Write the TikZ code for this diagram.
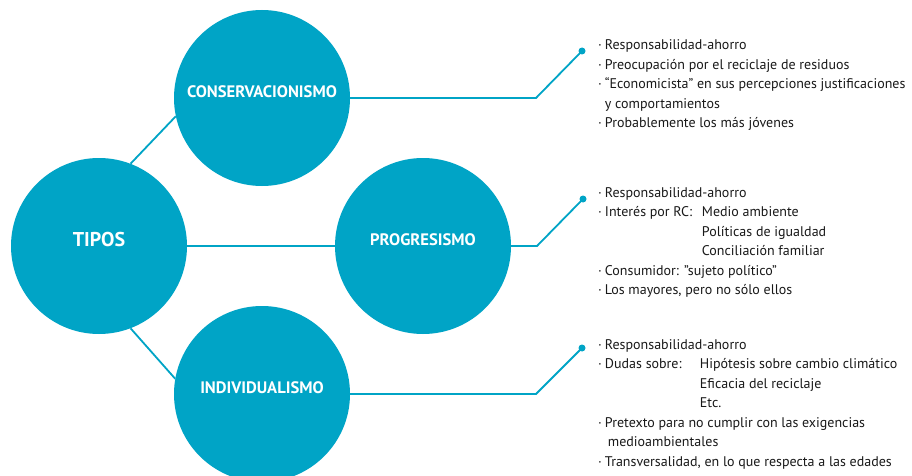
\documentclass[tikz,border=0pt]{standalone}
\usepackage{fontspec}
\setmainfont{PT Sans}
\usetikzlibrary{calc}
\definecolor{teal}{RGB}{0,164,198}
\definecolor{txt}{RGB}{25,25,25}
\tikzset{
  bigcircle/.style={circle,fill=teal,minimum size=176pt,inner sep=0pt},
  lab/.style={text=white,font=\bfseries\fontsize{16.6}{19}\selectfont,inner sep=0pt},
  biglab/.style={text=white,font=\bfseries\fontsize{20}{24}\selectfont,inner sep=0pt},
  conn/.style={draw=teal,line width=1.8pt},
  dotnode/.style={circle,fill=teal,minimum size=7pt,inner sep=0pt},
  block/.style={anchor=base west,inner sep=0pt,text=txt,font=\fontsize{14}{19.5}\selectfont}
}
\begin{document}
\begin{tikzpicture}[x=1pt,y=-1pt]
\clip (0,0) rectangle (912,476);
\fill[white] (0,0) rectangle (912,476);
% circles
\node[bigcircle] (tipos) at (99,246) {};
\node[bigcircle] (cons) at (262,98) {};
\node[bigcircle] (prog) at (423,246) {};
\node[bigcircle] (ind) at (262,394) {};
\node[biglab] (tiposT) at ([yshift=7pt]tipos.center) {TIPOS};
\node[lab] (consT) at ([yshift=6pt]cons.center) {CONSERVACIONISMO};
\node[lab] (progT) at ([yshift=6pt]prog.center) {PROGRESISMO};
\node[lab] (indT) at ([yshift=6pt]ind.center) {INDIVIDUALISMO};
% connectors between circles
\draw[conn] (tipos.69.5) -- (cons.192.6);
\draw[conn] (tipos.east) -- (prog.west);
\draw[conn] (tipos.-69.7) -- (ind.170.6);
% connectors to texts
\coordinate (k1) at (536,98);
\coordinate (k2) at (537,246);
\coordinate (k3) at (536,394);
\node[dotnode] (d1) at (582,51) {};
\node[dotnode] (d2) at (583,199) {};
\node[dotnode] (d3) at (582,348) {};
\draw[conn] (cons.east) -- (k1) -- (d1.center);
\draw[conn] (prog.east) -- (k2) -- (d2.center);
\draw[conn] (ind.east) -- (k3) -- (d3.center);
% text blocks
\node[block] (t1) at (598,50) {\begin{tabular}[t]{@{}l@{\hspace{3pt}}l@{}}
·& Responsabilidad-ahorro\\
·& Preocupación por el reciclaje de residuos\\
·& “Economicista” en sus percepciones justificaciones\\
 & y comportamientos\\
·& Probablemente los más jóvenes
\end{tabular}};
\node[block] (t2) at (598,197) {\begin{tabular}[t]{@{}l@{\hspace{3pt}}l@{}}
·& Responsabilidad-ahorro\\
·& \makebox[97pt][l]{Interés por RC:}Medio ambiente\\
 & \hspace{97pt}Políticas de igualdad\\
 & \hspace{97pt}Conciliación familiar\\
·& Consumidor: "sujeto político"\\
·& Los mayores, pero no sólo ellos
\end{tabular}};
\node[block] (t3) at (598,349) {\begin{tabular}[t]{@{}l@{\hspace{3pt}}l@{}}
·& Responsabilidad-ahorro\\
·& \makebox[95pt][l]{Dudas sobre:}Hipótesis sobre cambio climático\\
 & \hspace{95pt}Eficacia del reciclaje\\
 & \hspace{95pt}Etc.\\
·& Pretexto para no cumplir con las exigencias\\
 & \hspace{3pt}medioambientales\\
·& Transversalidad, en lo que respecta a las edades
\end{tabular}};
\end{tikzpicture}
\end{document}
